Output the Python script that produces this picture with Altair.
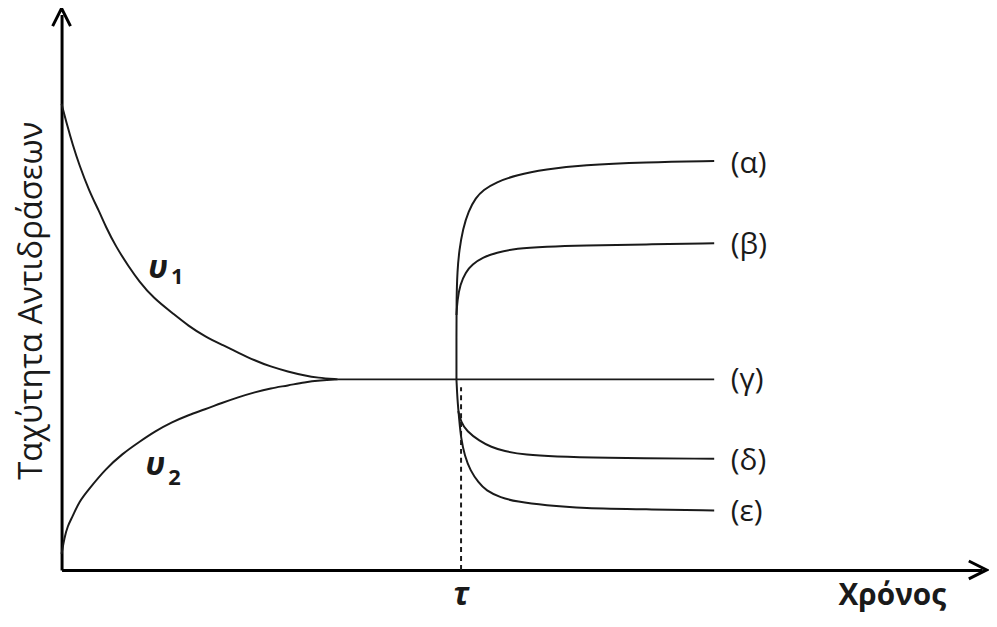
import altair as alt
import pandas as pd

# ---- curve data (time t, rate v) ----
v1_t = [0, 0.065, 0.12, 0.19, 0.30, 0.41, 0.48, 0.59, 0.73, 0.84, 1.0, 1.2, 1.38, 1.56, 1.76, 1.92, 2.10, 2.27, 2.46, 2.64, 2.78, 3.0]
v1_v = [8.39, 7.98, 7.66, 7.30, 6.82, 6.45, 6.18, 5.82, 5.46, 5.20, 4.89, 4.63, 4.39, 4.20, 4.04, 3.91, 3.77, 3.66, 3.57, 3.50, 3.46, 3.43]

v2_t = [0, 0.03, 0.065, 0.12, 0.19, 0.30, 0.48, 0.66, 0.84, 1.02, 1.2, 1.38, 1.56, 1.73, 1.92, 2.10, 2.27, 2.46, 2.64, 2.81, 3.0]
v2_v = [0.29, 0.57, 0.79, 0.96, 1.23, 1.46, 1.82, 2.09, 2.30, 2.50, 2.66, 2.79, 2.89, 3.0, 3.11, 3.20, 3.27, 3.32, 3.38, 3.41, 3.43]

gamma_t = [3.0, 7.09]
gamma_v = [3.43, 3.43]

alpha_t = [4.29, 4.29, 4.29, 4.30, 4.32, 4.36, 4.42, 4.50, 4.58, 4.72, 4.94, 5.26, 5.66, 6.34, 7.09]
alpha_v = [3.43, 4.14, 4.86, 5.39, 5.75, 6.14, 6.46, 6.70, 6.84, 6.98, 7.11, 7.21, 7.29, 7.34, 7.36]

beta_t = [4.29, 4.30, 4.33, 4.39, 4.46, 4.58, 4.72, 4.94, 5.26, 5.66, 6.34, 7.09]
beta_v = [4.59, 4.86, 5.14, 5.36, 5.50, 5.63, 5.71, 5.79, 5.82, 5.84, 5.86, 5.88]

delta_t = [4.31, 4.34, 4.40, 4.54, 4.67, 4.80, 5.04, 5.37, 5.80, 7.09]
delta_v = [2.86, 2.66, 2.50, 2.32, 2.21, 2.14, 2.07, 2.04, 2.02, 2.00]

eps_t = [4.29, 4.30, 4.32, 4.34, 4.38, 4.44, 4.53, 4.61, 4.77, 4.94, 5.26, 5.66, 6.34, 7.09]
eps_v = [3.43, 3.07, 2.71, 2.36, 2.05, 1.79, 1.57, 1.43, 1.30, 1.23, 1.16, 1.11, 1.09, 1.07]

tau = 4.34
tau_top = 3.29

end_labels = ["(α)", "(β)", "(γ)", "(δ)", "(ε)"]
end_label_v = [7.30, 5.84, 3.41, 1.96, 1.04]
end_label_t = 7.27

rate_names = ["υ", "υ"]
rate_subs = ["1", "2"]
rate_name_t = [0.94, 0.91]
rate_name_v = [5.43, 1.89]
rate_sub_t = [1.19, 1.16]
rate_sub_v = [5.27, 1.66]

# ---- build tables ----
rows = []
for name, ts, vs in [("v1", v1_t, v1_v), ("v2", v2_t, v2_v), ("g", gamma_t, gamma_v),
                     ("a", alpha_t, alpha_v), ("b", beta_t, beta_v),
                     ("d", delta_t, delta_v), ("e", eps_t, eps_v)]:
    for i, (t, v) in enumerate(zip(ts, vs)):
        rows.append({"series": name, "t": t, "v": v, "ord": i})
curves = pd.DataFrame(rows)

xs = alt.Scale(domain=[0, 10], nice=False, zero=False)
ys = alt.Scale(domain=[0, 10], nice=False, zero=False)
FONT = "Open Sans"
INK = "#1a1a1a"

lines = alt.Chart(curves).mark_line(
    color=INK, strokeWidth=2, interpolate="basis"
).encode(
    x=alt.X("t:Q", scale=xs, axis=alt.Axis(
        domain=True, domainColor="black", domainWidth=3, ticks=False, labels=False, grid=False,
        title="Χρόνος", titleFont=FONT, titleFontSize=30, titleFontWeight="bold",
        titleColor=INK, titleX=837, titleY=26, titleAlign="center", titleBaseline="middle")),
    y=alt.Y("v:Q", scale=ys, axis=alt.Axis(
        domain=True, domainColor="black", domainWidth=3, ticks=False, labels=False, grid=False,
        title="Ταχύτητα Αντιδράσεων", titleFont=FONT, titleFontSize=33, titleFontWeight="normal",
        titleColor=INK, titleAngle=270, titleX=-30, titleY=288, titleAlign="center",
        titleBaseline="middle")),
    detail="series:N",
    order="ord:Q",
)

dash = alt.Chart(pd.DataFrame({"t": [tau], "v0": [0], "v1": [tau_top]})).mark_rule(
    color=INK, strokeWidth=2, strokeDash=[5, 4]
).encode(x=alt.X("t:Q", scale=xs), y=alt.Y("v0:Q", scale=ys), y2="v1:Q")

# arrow heads at the tips of the axes
arrows = pd.DataFrame({"t": [0, 10.05], "v": [10.11, 0], "ang": [0, 90]})
heads = alt.Chart(arrows).mark_point(
    shape="M-0.5,1L0,0L0.5,1", size=1296, filled=False, stroke="black", strokeWidth=3, opacity=1
).encode(x=alt.X("t:Q", scale=xs), y=alt.Y("v:Q", scale=ys), angle=alt.Angle("ang:Q", scale=None))

lab = alt.Chart(pd.DataFrame({"t": [end_label_t] * len(end_labels), "v": end_label_v, "txt": end_labels})).mark_text(
    font=FONT, fontSize=30, align="left", baseline="middle", color=INK
).encode(x=alt.X("t:Q", scale=xs), y=alt.Y("v:Q", scale=ys), text="txt:N")

names = alt.Chart(pd.DataFrame({"t": rate_name_t, "v": rate_name_v, "txt": rate_names})).mark_text(
    font=FONT, fontSize=33, fontStyle="italic", fontWeight="bold", align="left", baseline="middle", color=INK
).encode(x=alt.X("t:Q", scale=xs), y=alt.Y("v:Q", scale=ys), text="txt:N")

subs = alt.Chart(pd.DataFrame({"t": rate_sub_t, "v": rate_sub_v, "txt": rate_subs})).mark_text(
    font=FONT, fontSize=22, fontWeight="bold", align="left", baseline="middle", color=INK
).encode(x=alt.X("t:Q", scale=xs), y=alt.Y("v:Q", scale=ys), text="txt:N")

taulab = alt.Chart(pd.DataFrame({"t": [tau], "v": [-0.45], "txt": ["τ"]})).mark_text(
    font=FONT, fontSize=32, fontStyle="italic", fontWeight="bold", align="center", baseline="middle", color=INK
).encode(x=alt.X("t:Q", scale=xs), y=alt.Y("v:Q", scale=ys), text="txt:N")

chart = alt.layer(lines, dash, heads, lab, names, subs, taulab).properties(
    width=928, height=560,
    autosize=alt.AutoSizeParams(type="none"),
    padding={"left": 54, "top": 4, "right": 7, "bottom": 47},
    background="white",
).configure_view(stroke=None)

chart.save("out.html", embed_options={"renderer": "svg", "actions": False})
